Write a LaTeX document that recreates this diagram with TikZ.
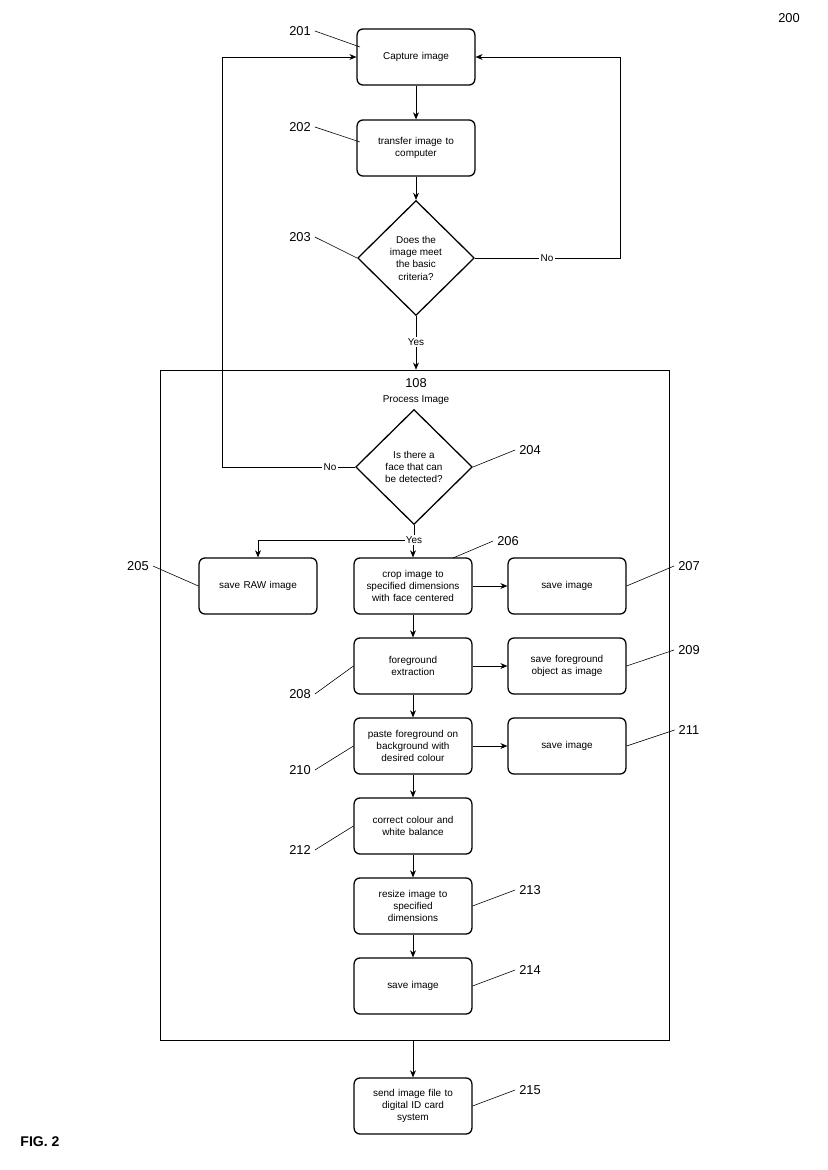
\documentclass[tikz,border=0pt]{standalone}
\usepackage{fontspec}
\setmainfont{Liberation Sans}
\usetikzlibrary{positioning,shapes.geometric,arrows.meta}
\tikzstyle{stage}=[rectangle, draw=black, rounded corners=5pt, line width=1.1pt,
        minimum width=3.48cm, minimum height=1.68cm, text width=3.3cm, align=center,
        font=\fontsize{8.5}{10.5}\selectfont]
\tikzstyle{decision}=[diamond, draw=black, line width=1.1pt,
        minimum width=3.5cm, minimum height=3.45cm, inner sep=0pt]
\tikzstyle{flow}=[-{Stealth[length=6pt,width=5pt]}, line width=0.5pt]
\tikzstyle{tag}=[font=\fontsize{11}{13}\selectfont]
\tikzstyle{lead}=[line width=0.5pt]
\tikzstyle{word}=[fill=white, inner sep=1pt, font=\fontsize{8.5}{10}\selectfont]

\begin{document}
\begin{tikzpicture}[x=0.03cm, y=-0.03cm]
        \useasboundingbox (0,0) rectangle (827,1170);
        % process frame
        \node (frame) [draw, line width=0.6pt, minimum width=15.27cm, minimum height=20.1cm]
          at (414.5,705) {};
        \node (num108) [tag] at (416,383) {108};
        \node (title) [word] at (416,400) {Process Image};

        \node (capture) [stage] at (416,57) {Capture image};
        \node (transfer) [stage] at (416,148) {transfer image to\\computer};
        \node (basic) [decision, label={[align=center, font=\fontsize{8.5}{10.5}\selectfont]center:Does the\\image meet\\the basic\\criteria?}] at (416,258) {};
        \node (face) [decision, label={[align=center, font=\fontsize{8.5}{10.5}\selectfont]center:Is there a\\face that can\\be detected?}] at (414,467) {};
        \node (raw) [stage] at (258,586) {save RAW image};
        \node (crop) [stage] at (413,586) {crop image to\\specified dimensions\\with face centered};
        \node (savea) [stage] at (567,586) {save image};
        \node (fg) [stage] at (413,666) {foreground\\extraction};
        \node (savefg) [stage] at (567,666) {save foreground\\object as image};
        \node (paste) [stage] at (413,746) {paste foreground on\\background with\\desired colour};
        \node (saveb) [stage] at (567,746) {save image};
        \node (colour) [stage] at (413,826) {correct colour and\\white balance};
        \node (resize) [stage] at (413,906) {resize image to\\specified\\dimensions};
        \node (savec) [stage] at (413,986) {save image};
        \node (send) [stage] at (413,1106) {send image file to\\digital ID card\\system};

        % connectors
        \draw [flow] (capture) -- (transfer);
        \draw [flow] (transfer) -- (basic);
        \draw [flow] (basic.east) -- (620,258) -- (620,57) -- (capture.east);
        \node [word] at (547,258) {No};
        \draw [flow] (basic.south) -- (basic.south |- frame.north);
        \node [word] at (416,342) {Yes};
        \draw [flow] (face.west) -- (222,467) -- (222,57) -- (capture.west);
        \node [word] at (330,467) {No};
        \coordinate (split) at (414,540);
        \draw [flow] (face.south) -- (split) -| (raw.north);
        \draw [flow] (split) -| (crop.north);
        \node [word] at (414,540) {Yes};
        \draw [flow] (crop) -- (savea);
        \draw [flow] (crop) -- (fg);
        \draw [flow] (fg) -- (savefg);
        \draw [flow] (fg) -- (paste);
        \draw [flow] (paste) -- (saveb);
        \draw [flow] (paste) -- (colour);
        \draw [flow] (colour) -- (resize);
        \draw [flow] (resize) -- (savec);
        \draw [flow] (frame.south -| send) -- (send);

        % reference numerals
        \node (n200) [tag] at (789,18) {200};
        \node (n201) [tag] at (300,31) {201};
        \draw [lead] (n201.east) -- (360,47);
        \node (n202) [tag] at (300,127) {202};
        \draw [lead] (n202.east) -- (360,142);
        \node (n203) [tag] at (300,237) {203};
        \draw [lead] (n203.east) -- (basic.west);
        \node (n204) [tag] at (530,450) {204};
        \draw [lead] (n204.west) -- (face.east);
        \node (n205) [tag] at (138,566) {205};
        \draw [lead] (n205.east) -- (raw.west);
        \node (n206) [tag] at (508,541) {206};
        \draw [lead] (n206.west) -- (453,558);
        \node (n207) [tag] at (689,566) {207};
        \draw [lead] (n207.west) -- (savea.east);
        \node (n208) [tag] at (300,694) {208};
        \draw [lead] (n208.east) -- (fg.west);
        \node (n209) [tag] at (689,650) {209};
        \draw [lead] (n209.west) -- (savefg.east);
        \node (n210) [tag] at (300,770) {210};
        \draw [lead] (n210.east) -- (paste.west);
        \node (n211) [tag] at (689,730) {211};
        \draw [lead] (n211.west) -- (saveb.east);
        \node (n212) [tag] at (300,850) {212};
        \draw [lead] (n212.east) -- (colour.west);
        \node (n213) [tag] at (530,890) {213};
        \draw [lead] (n213.west) -- (resize.east);
        \node (n214) [tag] at (530,970) {214};
        \draw [lead] (n214.west) -- (savec.east);
        \node (n215) [tag] at (530,1090) {215};
        \draw [lead] (n215.west) -- (send.east);
        \node (fig) [tag, font=\bfseries\fontsize{12}{14}\selectfont] at (40,1142) {FIG. 2};
\end{tikzpicture}
\end{document}
